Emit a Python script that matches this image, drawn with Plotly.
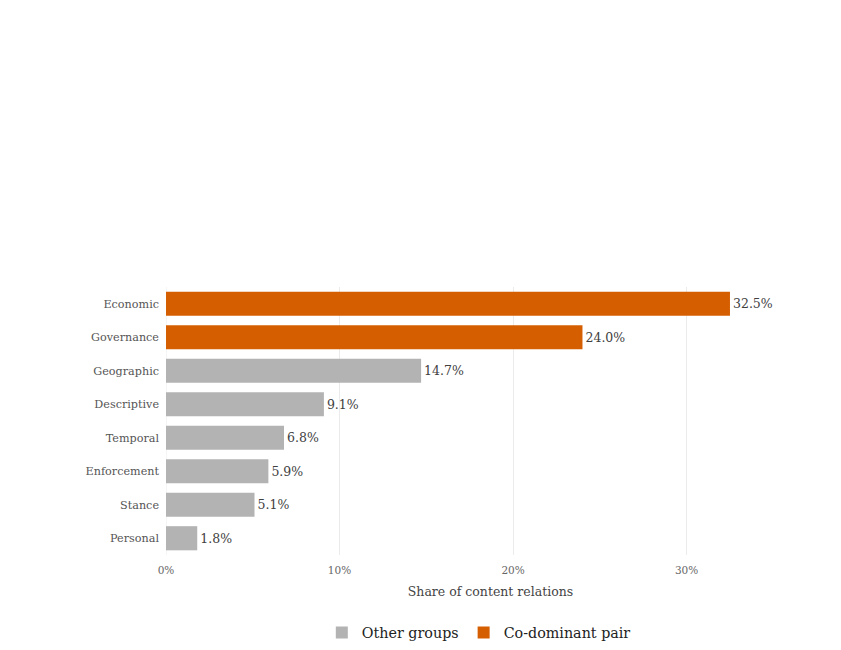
import plotly.graph_objects as go

categories = ["Economic", "Governance", "Geographic", "Descriptive", "Temporal", "Enforcement", "Stance", "Personal"]
shares = [32.5, 24.0, 14.7, 9.1, 6.8, 5.9, 5.1, 1.8]
groups = ["Co-dominant pair", "Co-dominant pair", "Other groups", "Other groups", "Other groups", "Other groups", "Other groups", "Other groups"]
tick_vals = [0, 10, 20, 30]
tick_text = ["0%", "10%", "20%", "30%"]

colors = {"Other groups": "#b3b3b3", "Co-dominant pair": "#d55e00"}
FONT = "Palatino Linotype, Palatino, Book Antiqua, URW Palladio L, DejaVu Serif, serif"

fig = go.Figure()
for g in ["Other groups", "Co-dominant pair"]:
    ys = [c for c, gg in zip(categories, groups) if gg == g]
    xs = [v for v, gg in zip(shares, groups) if gg == g]
    fig.add_trace(go.Bar(
        y=ys, x=xs, orientation="h", name=g,
        marker=dict(color=colors[g], line=dict(width=0)),
        text=[f"{v:.1f}%" for v in xs], textposition="outside",
        textfont=dict(size=12.5, color="#404040", family=FONT),
        cliponaxis=False,
    ))

fig.update_layout(
    width=841, height=650,
    margin=dict(l=166, r=26, t=287, b=95, autoexpand=False),
    plot_bgcolor="white", paper_bgcolor="white",
    barmode="relative", bargap=0.28,
    font=dict(family=FONT, color="#444444"),
    xaxis=dict(range=[0, 37.4], tickvals=tick_vals, ticktext=tick_text,
               showgrid=True, gridcolor="#ebebeb", gridwidth=1,
               zeroline=False, showline=False, ticks="",
               ticklabelstandoff=7,
               tickfont=dict(size=10.5, color="#666666"),
               title=dict(text="Share of content relations", font=dict(size=12.5, color="#444444"), standoff=12)),
    yaxis=dict(categoryorder="array", categoryarray=categories[::-1],
               showgrid=False, zeroline=False, showline=False, ticks="",
               ticklabelstandoff=6,
               tickfont=dict(size=11.2, color="#555555")),
    legend=dict(orientation="h", x=0.482, xanchor="center", y=-0.29, yanchor="middle",
                font=dict(size=14.3, color="#222222"), traceorder="normal",
                itemwidth=30),
    showlegend=True,
)
fig.add_shape(type="line", xref="x", yref="paper", x0=0, x1=0, y0=0, y1=1,
              line=dict(color="#ebebeb", width=1), layer="below")

fig.write_html("out.html")
